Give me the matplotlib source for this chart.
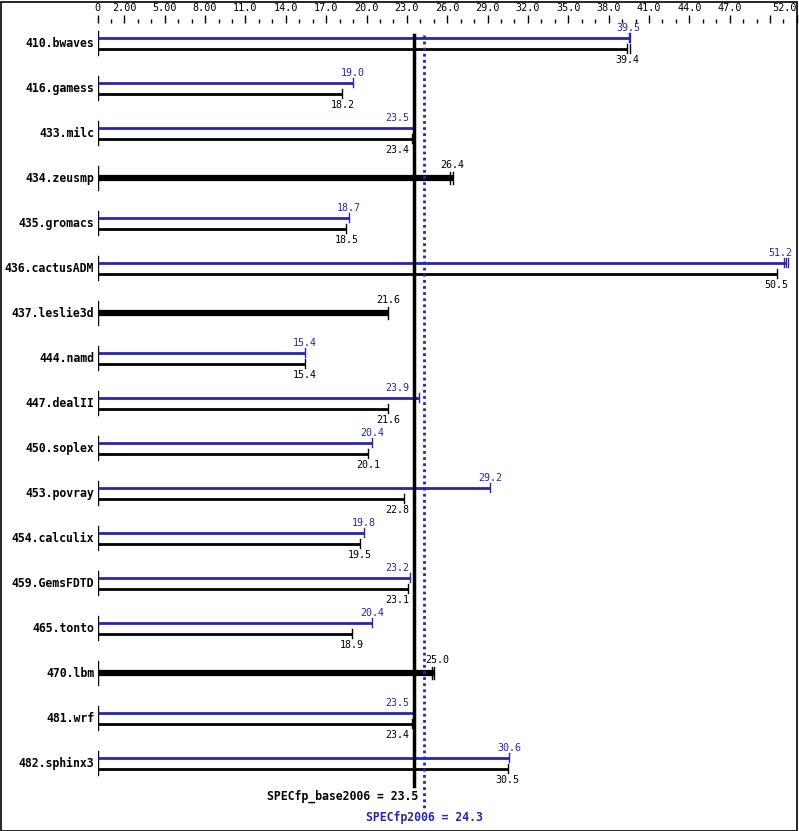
import matplotlib
matplotlib.use("Agg")
from matplotlib import pyplot as plt
from matplotlib.patches import Rectangle

benchmarks = [
    "410.bwaves", "416.gamess", "433.milc", "434.zeusmp", "435.gromacs",
    "436.cactusADM", "437.leslie3d", "444.namd", "447.dealII", "450.soplex",
    "453.povray", "454.calculix", "459.GemsFDTD", "465.tonto", "470.lbm",
    "481.wrf", "482.sphinx3",
]
# None = no peak run (base only, drawn as thick bar)
peak = [39.5, 19.0, 23.5, None, 18.7, 51.2, None, 15.4, 23.9, 20.4,
        29.2, 19.8, 23.2, 20.4, None, 23.5, 30.6]
base = [39.4, 18.2, 23.4, 26.4, 18.5, 50.5, 21.6, 15.4, 21.6, 20.1,
        22.8, 19.5, 23.1, 18.9, 25.0, 23.4, 30.5]
# extra run marks next to the median
peak_extra = [[39.6], [], [], [], [], [51.05, 51.35], [], [], [], [],
              [], [], [], [], [], [], []]
base_extra = [[39.6], [], [], [26.2], [], [], [], [], [], [],
              [], [], [], [], [24.85], [], []]

base_mean = 23.5
peak_mean = 24.3

tick_major = [0, 2, 5, 8, 11, 14, 17, 20, 23, 26, 29, 32, 35, 38, 41, 44, 47, 50, 52]
tick_labels = ["0", "2.00", "5.00", "8.00", "11.0", "14.0", "17.0", "20.0", "23.0",
               "26.0", "29.0", "32.0", "35.0", "38.0", "41.0", "44.0", "47.0", "", "52.0"]

BLUE = "#2626b0"
MONO = "DejaVu Sans Mono"

W, H = 799, 831
fig = plt.figure(figsize=(W / 100, H / 100), dpi=100)
fig.add_artist(Rectangle((0.5 / W, 0.5 / H), (W - 3) / W, (H - 2) / H,
                         transform=fig.transFigure, fill=False, ec="black", lw=1.2))

x0, scale = 97.5, 13.45
top = 23
ax = fig.add_axes([x0 / W, 0, 52 * scale / W, (H - top) / H])
ax.set_xlim(0, 52)
ax.set_ylim(H, top)
for s in ax.spines.values():
    s.set_visible(False)
ax.yaxis.set_visible(False)
ax.xaxis.tick_top()
ax.set_xticks(tick_major)
ax.set_xticklabels(tick_labels, fontsize=7.3, family=MONO)
ax.set_xticks([v for v in range(53) if v not in tick_major], minor=True)
ax.tick_params(axis="x", which="major", length=5.5, width=1, pad=1.5)
ax.tick_params(axis="x", which="minor", length=3, width=1)
labs = ax.get_xticklabels()
labs[-1].set_horizontalalignment("right")

half = 12.5 / scale      # half width of a value label, data units
gap = 4 / scale
right_edge = 51.65


def value_label(v, y, va, color):
    # keep value labels off the two mean lines and inside the frame
    lo, hi = base_mean - gap, peak_mean + gap
    if v + half > right_edge:
        x, ha = right_edge, "right"
    elif v - half < hi and v + half > lo:
        if v < peak_mean:
            x, ha = lo, "right"
        else:
            x, ha = hi - 0.2, "left"
    else:
        x, ha = v, "center"
    ax.text(x, y, f"{v:.1f}", ha=ha, va=va, fontsize=7.2, family=MONO, color=color)


row0, step = 43, 45
for i, name in enumerate(benchmarks):
    yc = row0 + step * i
    ax.text(-0.25, yc, name, ha="right", va="center", fontsize=8.3,
            family=MONO, fontweight="bold")
    ax.plot([0, 0], [yc - 12, yc + 12], color="black", lw=1)
    if peak[i] is None:
        v = base[i]
        ax.plot([0, v], [yc, yc], color="black", lw=4.5, solid_capstyle="butt")
        for r in [v] + base_extra[i]:
            ax.plot([r, r], [yc - 6, yc + 6], color="black", lw=1)
        value_label(v, yc - 8, "bottom", "black")
    else:
        yp, yb = yc - 5.5, yc + 5.5
        ax.plot([0, peak[i]], [yp, yp], color=BLUE, lw=2, solid_capstyle="butt")
        for r in [peak[i]] + peak_extra[i]:
            ax.plot([r, r], [yp - 4.5, yp + 4.5], color=BLUE, lw=1)
        ax.plot([0, base[i]], [yb, yb], color="black", lw=2, solid_capstyle="butt")
        for r in [base[i]] + base_extra[i]:
            ax.plot([r, r], [yb - 4.5, yb + 4.5], color="black", lw=1)
        value_label(peak[i], yp - 5, "bottom", BLUE)
        value_label(base[i], yb + 6, "top", "black")

ax.plot([base_mean, base_mean], [top + 12, 786], color="black", lw=2.5)
ax.plot([peak_mean, peak_mean], [top + 12, 808], color=BLUE, lw=2,
        linestyle=(0, (1, 1.2)))
ax.text(base_mean + 0.35, 796, f"SPECfp_base2006 = {base_mean}", ha="right",
        va="center", fontsize=8.3, family=MONO, fontweight="bold")
ax.text(peak_mean, 817, f"SPECfp2006 = {peak_mean}", ha="center", va="center",
        fontsize=8.3, family=MONO, fontweight="bold", color=BLUE)

fig.savefig("out.png", dpi=100)
